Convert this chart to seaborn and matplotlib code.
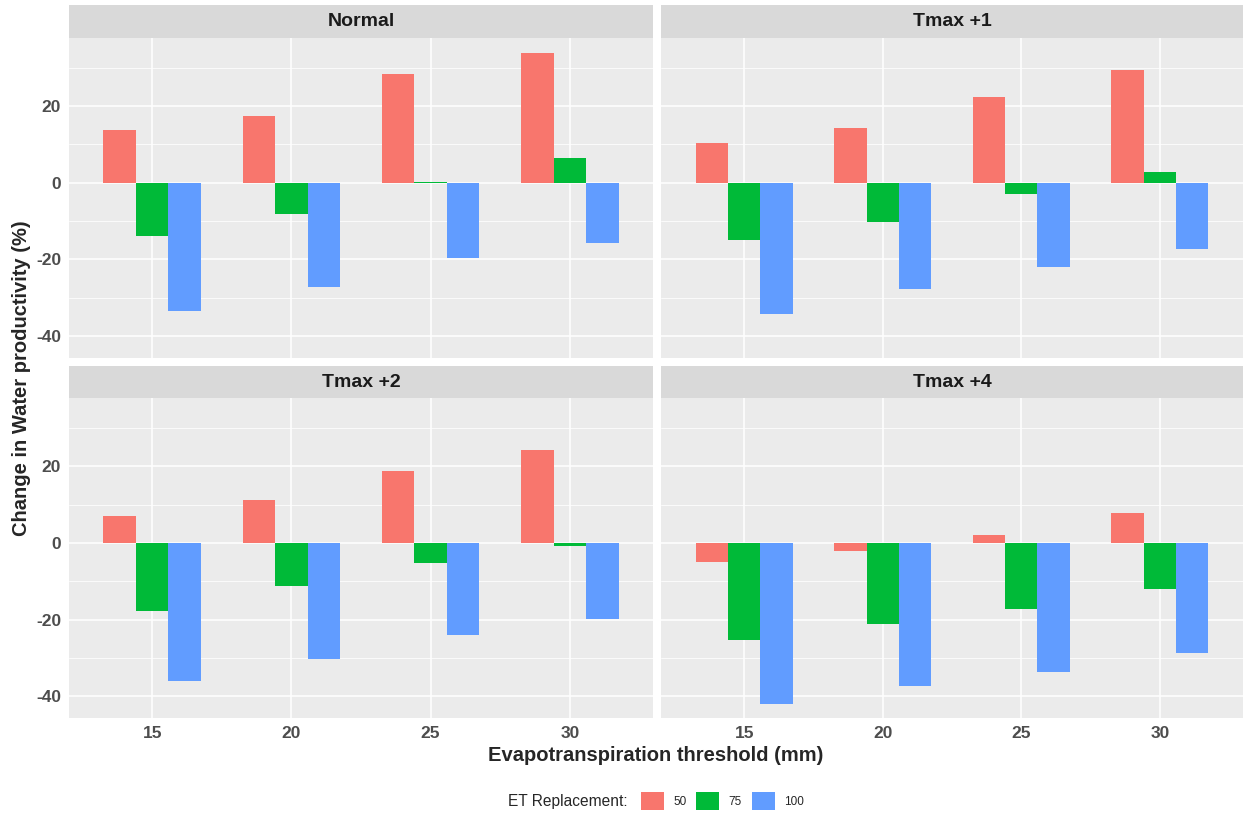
import numpy as np
import pandas as pd
import matplotlib
matplotlib.use("Agg")
import matplotlib.pyplot as plt
import seaborn as sns
from matplotlib.ticker import FixedLocator

# ---------------- data ----------------
thresholds = ["15", "20", "25", "30"]
scenarios = ["Normal", "Tmax +1", "Tmax +2", "Tmax +4"]
et_levels = ["50", "75", "100"]

normal_50 = [13.7, 17.3, 28.4, 33.9]
normal_75 = [-13.9, -8.2, 0.2, 6.3]
normal_100 = [-33.6, -27.2, -19.7, -15.9]

tmax1_50 = [10.2, 14.1, 22.4, 29.3]
tmax1_75 = [-15.0, -10.4, -2.9, 2.7]
tmax1_100 = [-34.4, -27.9, -22.0, -17.4]

tmax2_50 = [7.1, 11.3, 18.7, 24.1]
tmax2_75 = [-17.7, -11.2, -5.2, -0.8]
tmax2_100 = [-36.0, -30.2, -24.1, -19.7]

tmax4_50 = [-4.9, -2.1, 2.2, 7.8]
tmax4_75 = [-25.4, -21.0, -17.2, -12.1]
tmax4_100 = [-41.9, -37.3, -33.7, -28.6]

series = {
    "Normal": [normal_50, normal_75, normal_100],
    "Tmax +1": [tmax1_50, tmax1_75, tmax1_100],
    "Tmax +2": [tmax2_50, tmax2_75, tmax2_100],
    "Tmax +4": [tmax4_50, tmax4_75, tmax4_100],
}

rows = []
for sc in scenarios:
    for et, vals in zip(et_levels, series[sc]):
        for th, v in zip(thresholds, vals):
            rows.append({"scenario": sc, "ET": et, "threshold": th, "value": v})
df = pd.DataFrame(rows)

colors = {"50": "#F8766D", "75": "#00BA38", "100": "#619CFF"}

# ---------------- figure ----------------
W, H = 1243, 813
sns.set_style("white")
plt.rcParams["font.family"] = ["Liberation Sans", "DejaVu Sans"]
plt.rcParams["axes.unicode_minus"] = False

fig = plt.figure(figsize=(W / 100, H / 100), dpi=100)


def rect(x0, y0, x1, y1):
    return [x0 / W, 1 - y1 / H, (x1 - x0) / W, (y1 - y0) / H]


panel_px = {
    "Normal": (68.7, 38.0, 653.3, 357.7),
    "Tmax +1": (661.0, 38.0, 1243.0, 357.7),
    "Tmax +2": (68.7, 398.3, 653.3, 718.3),
    "Tmax +4": (661.0, 398.3, 1243.0, 718.3),
}
strip_px = {
    "Normal": (68.7, 5.3, 653.3, 37.7),
    "Tmax +1": (661.0, 5.3, 1243.0, 37.7),
    "Tmax +2": (68.7, 366.0, 653.3, 398.0),
    "Tmax +4": (661.0, 366.0, 1243.0, 398.0),
}

handles, labels = None, None
for i, sc in enumerate(scenarios):
    ax = fig.add_axes(rect(*panel_px[sc]))
    sub = df[df["scenario"] == sc]
    sns.barplot(data=sub, x="threshold", y="value", hue="ET",
                order=thresholds, hue_order=et_levels, palette=colors,
                width=0.7, saturation=1, linewidth=0, errorbar=None, ax=ax)
    if handles is None:
        handles, labels = ax.get_legend_handles_labels()
    if ax.get_legend() is not None:
        ax.get_legend().remove()
    ax.set_facecolor("#EBEBEB")
    for s in ax.spines.values():
        s.set_visible(False)
    ax.set_xlim(-0.6, 3.6)
    ax.set_ylim(-45.7, 37.7)
    ax.yaxis.set_major_locator(FixedLocator([-40, -20, 0, 20]))
    ax.yaxis.set_minor_locator(FixedLocator([-30, -10, 10, 30]))
    ax.set_axisbelow(True)
    ax.grid(which="major", color="white", linewidth=1.1)
    ax.grid(which="minor", axis="y", color="white", linewidth=0.55)
    ax.set_xlabel("")
    ax.set_ylabel("")
    ax.tick_params(axis="both", which="major", length=3.5, width=0.8,
                   color="#333333", labelsize=12.5, labelcolor="#4D4D4D", pad=2)
    ax.tick_params(axis="y", which="minor", length=0)
    for lab in ax.get_xticklabels() + ax.get_yticklabels():
        lab.set_fontweight("bold")
    if i % 2 == 1:
        ax.tick_params(axis="y", left=False, labelleft=False)
    if i < 2:
        ax.tick_params(axis="x", bottom=False, labelbottom=False)

    sax = fig.add_axes(rect(*strip_px[sc]))
    sax.set_facecolor("#D9D9D9")
    for s in sax.spines.values():
        s.set_visible(False)
    sax.set_xticks([])
    sax.set_yticks([])
    sax.text(0.5, 0.5, sc, ha="center", va="center", fontsize=14,
             fontweight="bold", color="#1A1A1A", transform=sax.transAxes)

fig.text(656 / W, 1 - 755 / H, "Evapotranspiration threshold (mm)",
         ha="center", va="center", fontsize=14.5, fontweight="bold")
fig.text(22 / W, 1 - 378 / H, "Change in Water productivity (%)",
         ha="center", va="center", rotation=90, fontsize=14.5, fontweight="bold")

fig.text(628 / W, 1 - 801 / H, "ET Replacement:", ha="right", va="center",
         fontsize=11.2)
fig.legend(handles, labels, loc="center left",
           bbox_to_anchor=(641 / W, 1 - 801 / H), ncol=3, frameon=False,
           fontsize=8.5, handlelength=1.95, handleheight=1.95,
           handletextpad=0.76, columnspacing=0.85, borderpad=0,
           borderaxespad=0)

fig.savefig("out.png", dpi=100)
